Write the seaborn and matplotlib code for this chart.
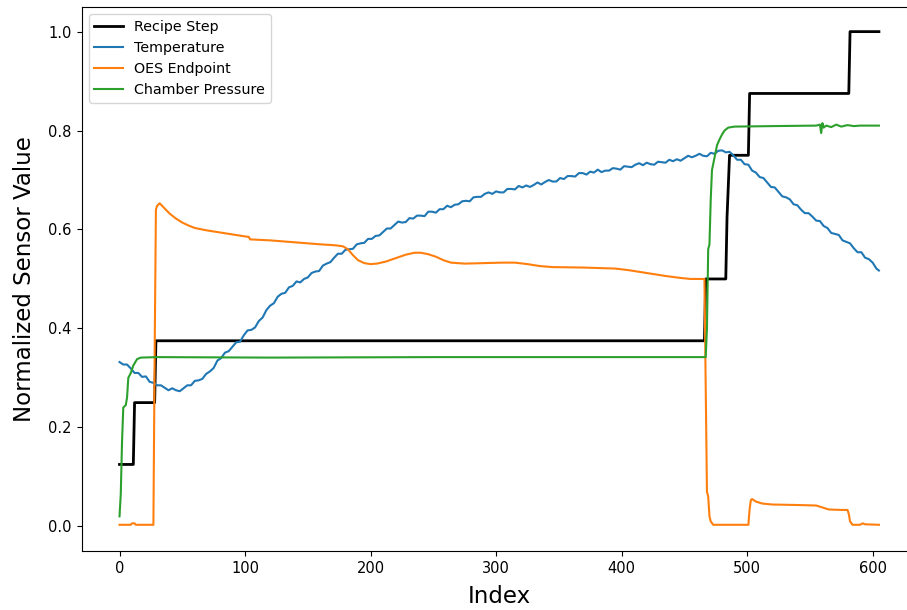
import numpy as np
import pandas as pd
import matplotlib
matplotlib.use("Agg")
import matplotlib.pyplot as plt
import seaborn as sns

# ---------------------------------------------------------------------------
# Sensor traces (normalized 0..1) against sample index
# ---------------------------------------------------------------------------

# Recipe step: level changes given as (index, value) breakpoints
recipe_index = [0, 11, 12, 28, 29, 466, 467, 483, 484, 486, 501, 502, 581, 582, 605]
recipe_value = [0.125, 0.125, 0.25, 0.25, 0.375, 0.375, 0.5, 0.5, 0.625, 0.75,
                0.75, 0.875, 0.875, 1.0, 1.0]

# Temperature, sampled every third index (plus the final sample)
temp_index = list(range(0, 604, 3)) + [605]
temp_value = [
    0.332, 0.327, 0.327, 0.319, 0.310, 0.310, 0.302, 0.303, 0.292, 0.290,
    0.285, 0.285, 0.280, 0.275, 0.279, 0.275, 0.273, 0.279, 0.285, 0.285,
    0.294, 0.295, 0.298, 0.308, 0.313, 0.320, 0.335, 0.340, 0.351, 0.354,
    0.363, 0.372, 0.373, 0.386, 0.396, 0.397, 0.402, 0.415, 0.422, 0.437,
    0.446, 0.451, 0.464, 0.470, 0.472, 0.483, 0.486, 0.495, 0.493, 0.500,
    0.503, 0.512, 0.515, 0.516, 0.527, 0.531, 0.534, 0.543, 0.551, 0.551,
    0.559, 0.560, 0.561, 0.570, 0.572, 0.573, 0.581, 0.581, 0.587, 0.588,
    0.595, 0.602, 0.602, 0.609, 0.616, 0.614, 0.615, 0.623, 0.622, 0.628,
    0.628, 0.627, 0.636, 0.636, 0.634, 0.641, 0.641, 0.648, 0.645, 0.650,
    0.651, 0.657, 0.658, 0.657, 0.665, 0.666, 0.666, 0.672, 0.675, 0.672,
    0.677, 0.675, 0.675, 0.682, 0.682, 0.681, 0.688, 0.685, 0.689, 0.686,
    0.690, 0.695, 0.691, 0.696, 0.700, 0.697, 0.697, 0.704, 0.702, 0.708,
    0.708, 0.707, 0.714, 0.714, 0.711, 0.717, 0.715, 0.721, 0.716, 0.719,
    0.719, 0.724, 0.723, 0.721, 0.728, 0.727, 0.726, 0.731, 0.734, 0.730,
    0.735, 0.732, 0.731, 0.737, 0.736, 0.735, 0.741, 0.738, 0.742, 0.739,
    0.744, 0.749, 0.746, 0.749, 0.753, 0.749, 0.748, 0.755, 0.753, 0.759,
    0.760, 0.756, 0.757, 0.750, 0.741, 0.741, 0.732, 0.731, 0.719, 0.715,
    0.706, 0.704, 0.695, 0.686, 0.685, 0.676, 0.667, 0.665, 0.661, 0.651,
    0.649, 0.640, 0.633, 0.633, 0.626, 0.618, 0.617, 0.607, 0.603, 0.593,
    0.591, 0.589, 0.578, 0.575, 0.572, 0.562, 0.554, 0.554, 0.543, 0.540,
    0.533, 0.521, 0.517,
]

# OES endpoint signal: (index, value) breakpoints
oes_index = [0, 9, 10, 12, 13, 27, 28, 29, 30, 32, 35, 40, 45, 50, 55, 60, 70,
             80, 90, 100, 103, 104, 120, 140, 160, 172, 178, 182, 186, 190, 195,
             200, 205, 212, 220, 228, 235, 240, 246, 252, 258, 264, 275, 290,
             305, 315, 325, 335, 345, 370, 395, 405, 420, 435, 447, 455, 466,
             468, 469, 470, 471, 473, 501, 502, 503, 504, 507, 512, 520, 540,
             555, 560, 565, 575, 580, 581, 582, 584, 590, 592, 594, 605]
oes_value = [0.003, 0.003, 0.006, 0.006, 0.003, 0.003, 0.35, 0.640, 0.648, 0.653,
             0.645, 0.632, 0.622, 0.614, 0.608, 0.603, 0.598, 0.594, 0.590, 0.586,
             0.585, 0.580, 0.578, 0.574, 0.570, 0.568, 0.566, 0.560, 0.548, 0.538,
             0.532, 0.530, 0.531, 0.535, 0.542, 0.549, 0.553, 0.553, 0.550, 0.545,
             0.538, 0.533, 0.531, 0.532, 0.533, 0.533, 0.530, 0.526, 0.524, 0.523,
             0.521, 0.518, 0.512, 0.506, 0.502, 0.500, 0.500, 0.070, 0.060, 0.020,
             0.010, 0.003, 0.003, 0.035, 0.053, 0.055, 0.050, 0.046, 0.044, 0.043,
             0.042, 0.038, 0.034, 0.033, 0.033, 0.025, 0.010, 0.003, 0.003, 0.006,
             0.004, 0.003]

# Chamber pressure: (index, value) breakpoints
press_index = [0, 1, 2, 3, 5, 6, 7, 9, 11, 14, 17, 30, 120, 250, 400, 467, 468,
               469, 470, 471, 472, 474, 476, 478, 480, 482, 485, 490, 520, 555,
               558, 559, 560, 561, 563, 567, 571, 575, 580, 585, 590, 605]
press_value = [0.020, 0.065, 0.170, 0.240, 0.245, 0.260, 0.300, 0.310, 0.325,
               0.338, 0.341, 0.342, 0.341, 0.342, 0.342, 0.342, 0.400, 0.560,
               0.570, 0.660, 0.720, 0.745, 0.770, 0.782, 0.792, 0.800, 0.806,
               0.808, 0.809, 0.810, 0.812, 0.795, 0.815, 0.806, 0.810, 0.807,
               0.812, 0.808, 0.811, 0.809, 0.810, 0.810]

series = [
    ("Recipe Step", recipe_index, recipe_value, "black", 2.0),
    ("Temperature", temp_index, temp_value, "#1f77b4", 1.5),
    ("OES Endpoint", oes_index, oes_value, "#ff7f0e", 1.5),
    ("Chamber Pressure", press_index, press_value, "#2ca02c", 1.5),
]

fig = plt.figure(figsize=(9.07, 6.10), dpi=100)
ax = fig.add_axes([0.0899, 0.0967, 0.921, 0.892])

for name, xs, ys, color, lw in series:
    df = pd.DataFrame({"Index": xs, "value": ys})
    sns.lineplot(data=df, x="Index", y="value", color=color, linewidth=lw,
                 label=name, ax=ax)

ax.set_xlim(-30.25, 635.25)
ax.set_ylim(-0.05, 1.05)
ax.set_xlabel("Index", fontsize=16.5, labelpad=7)
ax.set_ylabel("Normalized Sensor Value", fontsize=16.5, labelpad=9)
ax.tick_params(labelsize=10.5)
ax.legend(loc="upper left", fontsize=10.3)

fig.savefig("out.png", dpi=100)
